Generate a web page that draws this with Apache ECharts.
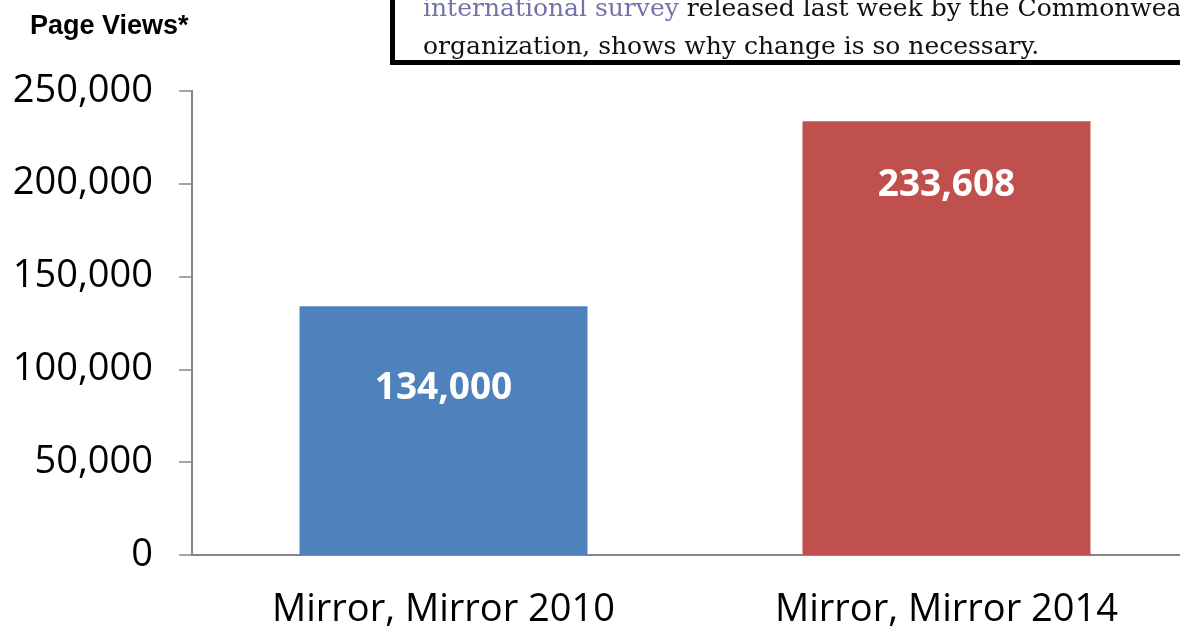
<!DOCTYPE html>
<html>
<head>
<meta charset="utf-8">
<title>Page Views</title>
<script src="https://cdn.jsdelivr.net/npm/echarts@6/dist/echarts.min.js"></script>
<style>
  html, body { margin: 0; padding: 0; overflow: hidden; background: #fff; }
  #chart { width: 1198px; height: 628px; }
</style>
</head>
<body>
<div id="chart"></div>
<script>
// data
const categories = ['Mirror, Mirror 2010', 'Mirror, Mirror 2014']
const pageViews = [134000, 233608]
const barColors = ['#4f81bd', '#c0504d']
const yTicks = [0, 50000, 100000, 150000, 200000, 250000]
const quoteLink = 'international survey'
const quoteLine1 = ' released last week by the Commonwealth Fund, a'
const quoteLine2 = 'organization, shows why change is so necessary.'

const fmt = v => Number(v).toLocaleString('en-US')
// excel placed the labels a little differently in each bar
const labelGap = [64, 46]

const chart = echarts.init(document.getElementById('chart'))
chart.setOption({
  animation: false,
  grid: {
    left: 192,
    right: 0,
    top: 90.7,
    bottom: 73,
    outerBoundsMode: 'none',
    containLabel: false
  },
  xAxis: {
    type: 'category',
    data: categories,
    axisLine: { lineStyle: { color: '#868686', width: 2 } },
    axisTick: { show: false },
    axisLabel: {
      margin: 36,
      color: '#000',
      fontFamily: 'Open Sans',
      fontSize: 38
    }
  },
  yAxis: {
    type: 'value',
    min: yTicks[0],
    max: yTicks[yTicks.length - 1],
    interval: yTicks[1] - yTicks[0],
    splitLine: { show: false },
    axisLine: { show: true, lineStyle: { color: '#868686', width: 2 } },
    axisTick: { show: true, length: 13, lineStyle: { color: '#868686', width: 1.5 } },
    axisLabel: {
      margin: 39,
      color: '#000',
      fontFamily: 'Open Sans',
      fontSize: 38,
      formatter: fmt
    }
  },
  series: [{
    type: 'bar',
    barWidth: 288,
    data: pageViews.map((v, i) => ({
      value: v,
      itemStyle: { color: barColors[i] },
      label: { distance: labelGap[i] }
    })),
    label: {
      show: true,
      position: 'insideTop',
      color: '#fff',
      fontFamily: 'Open Sans',
      fontWeight: 'bold',
      fontSize: 37,
      formatter: p => fmt(p.value)
    }
  }],
  graphic: [
    {
      type: 'text',
      left: 30,
      top: 13,
      style: {
        text: 'Page Views*',
        fill: '#000',
        font: 'bold 27px "Liberation Sans", Arial, sans-serif'
      }
    },
    {
      type: 'rect',
      shape: { x: 392.5, y: -20, width: 900, height: 82.5 },
      style: { fill: '#fff', stroke: '#000', lineWidth: 5 }
    },
    {
      type: 'text',
      x: 423,
      y: 9,
      style: {
        text: '{a|' + quoteLink + '}{b|' + quoteLine1 + '}',
        verticalAlign: 'middle',
        rich: {
          a: { fill: '#7373a6', font: '25px "DejaVu Serif", serif' },
          b: { fill: '#111', font: '25px "DejaVu Serif", serif' }
        }
      }
    },
    {
      type: 'text',
      x: 423,
      y: 47,
      style: {
        text: quoteLine2,
        verticalAlign: 'middle',
        fill: '#111',
        font: '25px "DejaVu Serif", serif'
      }
    }
  ]
})
</script>
</body>
</html>
